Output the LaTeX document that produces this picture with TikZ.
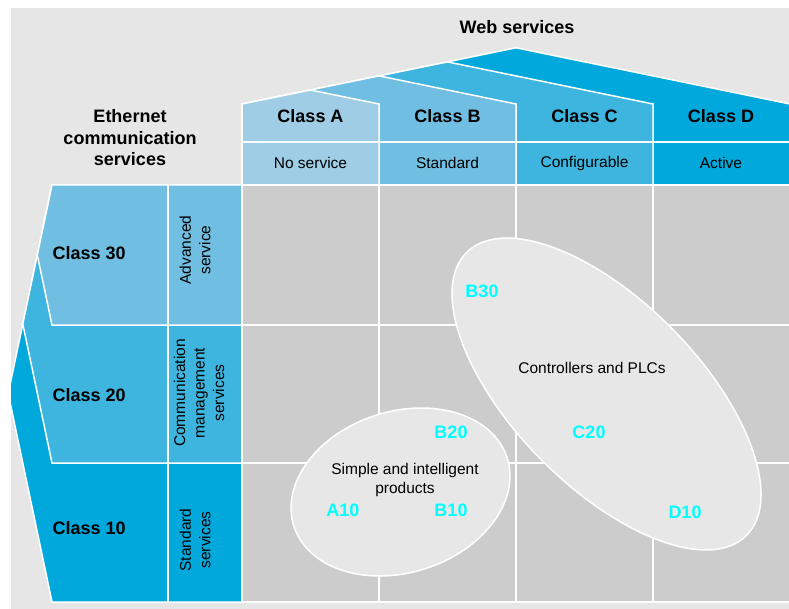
\documentclass[tikz,border=0pt]{standalone}
\usepackage{fontspec}
\setmainfont{Liberation Sans}

\definecolor{classA}{RGB}{158,205,229}
\definecolor{classB}{RGB}{112,190,226}
\definecolor{classC}{RGB}{62,181,223}
\definecolor{classD}{RGB}{0,168,220}
\definecolor{backgray}{RGB}{230,230,230}
\definecolor{cellgray}{RGB}{204,204,204}
\definecolor{ovalgray}{RGB}{231,231,231}
\definecolor{codecyan}{RGB}{0,255,255}

\begin{document}
\begin{tikzpicture}[x=1pt, y=-1pt,
    frame/.style={draw=white, line width=1.5pt},
    head/.style={font=\fontsize{18}{21.5}\selectfont\bfseries, align=center},
    desc/.style={font=\fontsize{15.5}{19.5}\selectfont, align=center},
    code/.style={font=\fontsize{18}{20}\selectfont\bfseries, text=codecyan}]

    \useasboundingbox (0,0) rectangle (789,609);
    \fill[backgray] (11,8) rectangle (789,609);

    \begin{scope}
    \clip (11,8) rectangle (789,609);
    % web service classes, widest roof first
    \filldraw[frame, fill=classD] (242,185) -- (242,104) -- (516,47.8) -- (790,104) -- (790,185) -- cycle;
    \filldraw[frame, fill=classC] (242,185) -- (242,104) -- (447.5,61.9) -- (653,104) -- (653,185) -- cycle;
    \filldraw[frame, fill=classB] (242,185) -- (242,104) -- (379,75.9) -- (516,104) -- (516,185) -- cycle;
    \filldraw[frame, fill=classA] (242,185) -- (242,104) -- (310.5,90) -- (379,104) -- (379,185) -- cycle;
    \draw[frame] (242,142) -- (790,142);

    % ethernet classes, tallest first
    \filldraw[frame, fill=classD] (242,185) -- (52,185) -- (8.2,393.5) -- (52,602) -- (242,602) -- cycle;
    \filldraw[frame, fill=classC] (242,185) -- (52,185) -- (22.8,324) -- (52,463) -- (242,463) -- cycle;
    \filldraw[frame, fill=classB] (242,185) -- (52,185) -- (37.3,255) -- (52,325) -- (242,325) -- cycle;
    \draw[frame] (168,185) -- (168,602);

    % matrix of combinations
    \filldraw[frame, fill=cellgray] (242,185) rectangle (790,602);
    \draw[frame] (379,185) -- (379,602);
    \draw[frame] (516,185) -- (516,602);
    \draw[frame] (653,185) -- (653,602);
    \draw[frame] (242,325) -- (790,325);
    \draw[frame] (242,463) -- (790,463);
    \end{scope}

    % device groups
    \filldraw[frame, fill=ovalgray, rotate around={17.7:(400.5,492)}] (400.5,492) ellipse [x radius=112, y radius=80.6];
    \filldraw[frame, fill=ovalgray, rotate around={-45.4:(606.5,394)}] (606.5,394) ellipse [x radius=199, y radius=92.6];

    \node[head] (web) at (517,27) {Web services};
    \node[head] (ether) at (130,138) {Ethernet\\communication\\services};

    \node[head] (classA) at (310.5,116) {Class A};
    \node[head] (classB) at (447.5,116) {Class B};
    \node[head] (classC) at (584.5,116) {Class C};
    \node[head] (classD) at (721,116) {Class D};
    \node[desc] (servA) at (310.5,163) {No service};
    \node[desc] (servB) at (447.5,163) {Standard};
    \node[desc] (servC) at (584.5,163) {Configurable};
    \node[desc] (servD) at (721,163) {Active};

    \node[head, anchor=west] (class30) at (49,253) {Class 30};
    \node[head, anchor=west] (class20) at (49,395) {Class 20};
    \node[head, anchor=west] (class10) at (49,528) {Class 10};
    \node[desc, rotate=90] (serv30) at (195,250) {Advanced\\service};
    \node[desc, rotate=90] (serv20) at (199,393) {Communication\\management\\services};
    \node[desc, rotate=90] (serv10) at (195,540) {Standard\\services};

    \node[desc] (plc) at (592,368) {Controllers and PLCs};
    \node[desc] (simple) at (405,480) {Simple and intelligent\\products};

    \node[code] (b30) at (482,291) {B30};
    \node[code] (c20) at (589,432) {C20};
    \node[code] (d10) at (685,512) {D10};
    \node[code] (b20) at (451,432) {B20};
    \node[code] (a10) at (343,510) {A10};
    \node[code] (b10) at (451,510) {B10};
\end{tikzpicture}
\end{document}
